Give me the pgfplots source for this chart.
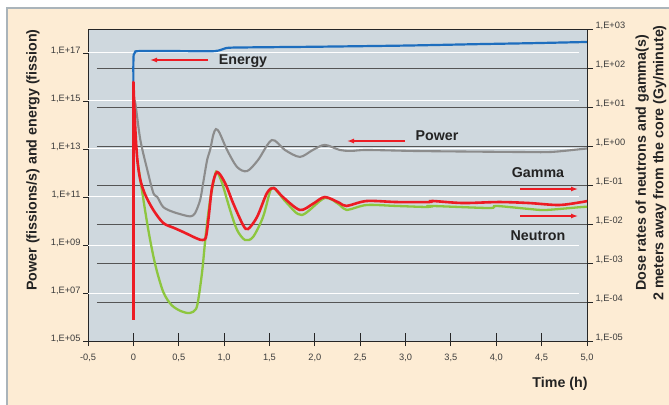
\documentclass[border=0pt]{standalone}
\usepackage{pgfplots}
\pgfplotsset{compat=1.18}
\usepackage{fontspec}
\setmainfont{Liberation Sans}
\usetikzlibrary{arrows.meta}
\definecolor{cream}{RGB}{253,236,212}
\definecolor{panelborder}{RGB}{170,180,186}
\definecolor{plotbg}{RGB}{207,216,222}
\definecolor{gridd}{RGB}{85,85,85}
\definecolor{cred}{RGB}{237,28,36}
\definecolor{cgreen}{RGB}{141,198,63}
\definecolor{cgray}{RGB}{140,140,140}
\definecolor{cblue}{RGB}{30,110,190}
\definecolor{ticktext}{RGB}{60,60,60}
\definecolor{labeltext}{RGB}{35,35,35}
\begin{document}
\begin{tikzpicture}[x=1bp,y=1bp]
\useasboundingbox (0,0) rectangle (669,404);
\fill[white] (0,0) rectangle (669,404);
\filldraw[fill=cream,draw=panelborder,line width=1.2bp] (7,-5) rectangle (675,396);

% ---------- axis 1: left (power, energy) ----------
\begin{axis}[
  at={(88bp,63bp)}, anchor=south west,
  scale only axis, width=499bp, height=312bp,
  xmin=-0.5, xmax=5, ymin=1e5, ymax=1e18, ymode=log,
  axis background/.style={fill=plotbg},
  axis line style={draw=black!85, line width=0.9bp},
  xtick={-0.5,0,0.5,1,1.5,2,2.5,3,3.5,4,4.5,5},
  xticklabels={{-0,5},{0},{0,5},{1,0},{1,5},{2,0},{2,5},{3,0},{3,5},{4,0},{4,5},{5,0}},
  xtick pos=left, xtick style={draw=none},
  ytick={1e5,1e7,1e9,1e11,1e13,1e15,1e17},
  yticklabels={{1,E+05},{1,E+07},{1,E+09},{1,E+11},{1,E+13},{1,E+15},{1,E+17}},
  ytick pos=left, yminorticks=false, xminorticks=false,
  tick align=outside, major tick length=5bp,
  ytick style={line width=0.9bp, draw=black!85},
  tick label style={font=\fontsize{9.3}{11}\selectfont, text=ticktext},
  yticklabel style={yshift=2bp, xshift=1bp},
  xticklabel style={yshift=-5bp},
]
% white lines at left decade ticks
\draw[white, line width=1bp] (axis cs:-0.5,1e7) -- (axis cs:4.91,1e7);
\draw[white, line width=1bp] (axis cs:-0.5,1e9) -- (axis cs:4.91,1e9);
\draw[white, line width=1bp] (axis cs:-0.5,1e11) -- (axis cs:4.91,1e11);
\draw[white, line width=1bp] (axis cs:-0.5,1e13) -- (axis cs:4.91,1e13);
\draw[white, line width=1bp] (axis cs:-0.5,1e15) -- (axis cs:4.91,1e15);
\draw[white, line width=1bp] (axis cs:-0.5,1e17) -- (axis cs:4.91,1e17);
% dark lines at right decade ticks
\draw[gridd, line width=0.95bp] (rel axis cs:0.018,0.125) -- (rel axis cs:1,0.125);
\draw[gridd, line width=0.95bp] (rel axis cs:0.018,0.25) -- (rel axis cs:1,0.25);
\draw[gridd, line width=0.95bp] (rel axis cs:0.018,0.375) -- (rel axis cs:1,0.375);
\draw[gridd, line width=0.95bp] (rel axis cs:0.018,0.5) -- (rel axis cs:1,0.5);
\draw[gridd, line width=0.95bp] (rel axis cs:0.018,0.625) -- (rel axis cs:1,0.625);
\draw[gridd, line width=0.95bp] (rel axis cs:0.018,0.75) -- (rel axis cs:1,0.75);
\draw[gridd, line width=0.95bp] (rel axis cs:0.018,0.875) -- (rel axis cs:1,0.875);
% Power (gray)
\addplot[cgray, line width=2.1bp, smooth, tension=0.5, line cap=round] coordinates {
(0.005,1.0e15) (0.022,7.9e14) (0.077,2.37e13) (0.154,1.33e12) (0.22,1.48e11)
(0.264,1.0e11) (0.33,3.8e10) (0.44,2.37e10) (0.593,1.62e10) (0.64,1.6e10)
(0.681,2.14e10) (0.736,7.5e10) (0.769,3.8e11) (0.813,3.47e12) (0.846,9.1e12)
(0.88,3.8e13) (0.91,6.76e13) (0.95,4.68e13) (1.033,9.1e12) (1.143,1.78e12)
(1.253,1.2e12) (1.374,3.47e12) (1.527,2.37e13) (1.67,9.1e12) (1.835,4.68e12)
(1.978,9.1e12) (2.11,1.48e13) (2.275,9.1e12) (2.4,8.3e12) (2.571,9.1e12)
(3.077,8.3e12) (3.5,7.94e12) (4.253,7.5e12) (4.6,7.5e12) (4.945,1.0e13) (5.0,1.05e13)
};
% Energy (blue)
\addplot[cblue, line width=2.2bp, smooth, tension=0.4, line cap=round] coordinates {
(0,6.2e15) (0,4.0e16) (0.004,8.5e16) (0.02,1.1e17) (0.06,1.2e17) (0.5,1.2e17)
(0.9,1.2e17) (1.03,1.62e17) (1.2,1.7e17) (2.0,1.82e17) (3.0,2.04e17)
(3.8,2.34e17) (4.4,2.57e17) (5.0,2.88e17)
};
\end{axis}

% ---------- axis 2: right (dose rates) ----------
\begin{axis}[
  at={(88bp,63bp)}, anchor=south west,
  scale only axis, width=499bp, height=312bp,
  xmin=-0.5, xmax=5, ymin=1e-5, ymax=1e3, ymode=log,
  axis x line=none, axis y line*=right,
  axis line style={-, draw=black!85, line width=0.9bp},
  xtick=\empty,
  ytick={1e-5,1e-4,1e-3,1e-2,1e-1,1,1e1,1e2,1e3},
  yticklabels={{1,E-05},{1,E-04},{1,E-03},{1,E-02},{1,E-01},{1,E+00},{1,E+01},{1,E+02},{1,E+03}},
  yminorticks=false,
  tick align=outside, major tick length=6bp,
  ytick style={line width=0.9bp, draw=black!85},
  tick label style={font=\fontsize{9.3}{11}\selectfont, text=ticktext},
  yticklabel style={yshift=3bp, xshift=-1bp},
]
% Neutron (green)
\addplot[cgreen, line width=2.3bp, smooth, tension=0.5, line cap=round] coordinates {
(0.044,0.438) (0.077,0.134) (0.165,0.007) (0.242,8.9e-4) (0.33,1.8e-4)
(0.42,8.4e-5) (0.52,5.9e-5) (0.62,5.2e-5) (0.69,6.6e-5) (0.72,1.34e-4)
(0.76,6.6e-4) (0.80,5.9e-3) (0.846,0.0412) (0.90,0.18) (0.923,0.215)
(0.978,0.112) (1.066,0.0229) (1.143,0.00702) (1.231,0.00389) (1.319,0.00464)
(1.429,0.0151) (1.505,0.0662) (1.548,0.0838) (1.692,0.0345) (1.857,0.017)
(2.11,0.0465) (2.275,0.0307) (2.352,0.0229) (2.571,0.0307) (2.9,0.029)
(3.242,0.0273) (3.286,0.029) (3.923,0.0257) (4.0,0.029) (4.363,0.0243)
(4.549,0.0229) (4.945,0.0273) (5.0,0.0273)
};
% Gamma (red) - vertical start
\addplot[cred, line width=2.6bp] coordinates {(0,3.47e-5) (0,43.7)};
% Gamma (red) - curve
\addplot[cred, line width=2.6bp, smooth, tension=0.5, line cap=round] coordinates {
(0,43.7) (0.022,2.57) (0.044,0.438) (0.077,0.134) (0.132,0.0555) (0.22,0.0229)
(0.33,0.0106) (0.45,0.0079) (0.549,0.00624) (0.70,0.00425) (0.76,0.00389)
(0.80,0.0046) (0.83,0.0151) (0.868,0.0889) (0.923,0.215) (1.011,0.112)
(1.099,0.0345) (1.209,0.00942) (1.264,0.00745) (1.363,0.0151) (1.473,0.0624)
(1.548,0.0838) (1.648,0.0492) (1.835,0.0229) (1.98,0.033) (2.11,0.0492)
(2.275,0.0345) (2.35,0.029) (2.571,0.0389) (2.9,0.0366) (3.26,0.0366)
(3.3,0.0389) (3.63,0.0345) (4.03,0.0366) (4.36,0.0345) (4.69,0.0307)
(4.945,0.0366) (5.0,0.0389)
};
\end{axis}

% ---------- axis 3: x ticks crossing the bottom line ----------
\begin{axis}[
  at={(88bp,63bp)}, anchor=south west,
  scale only axis, width=499bp, height=312bp,
  xmin=-0.5, xmax=5, ymin=0, ymax=1,
  axis y line=none, axis x line*=bottom,
  axis line style={-, draw=black!85, line width=0.9bp},
  xtick={-0.5,0,0.5,1,1.5,2,2.5,3,3.5,4,4.5,5},
  xticklabels={}, ytick=\empty, xminorticks=false,
  tick align=center, major tick length=13bp,
  xtick style={line width=0.9bp, draw=black!85, yshift=1.5bp},
]
\end{axis}

% ---------- annotations ----------
\begin{scope}[font=\fontsize{14.3}{17.5}\selectfont\bfseries, text=labeltext]
\node at (243,343) {Energy};
\node at (437,268) {Power};
\node at (538,231) {Gamma};
\node at (538,168) {Neutron};
\node at (560,20) {Time (h)};
\node[rotate=90] at (33,244) {Power (fissions/s) and energy (fission)};
\node[rotate=90, align=center] at (651,241) {Dose rates of neutrons and gamma(s)\\2 meters away from the core (Gy/minute)};
\end{scope}
\begin{scope}[cred, line width=1.3bp, -{Latex[length=7bp,width=5bp]}]
\draw (208,344) -- (150,344);
\draw (405,263) -- (347,263);
\draw (520,215) -- (578,215);
\draw (520,188) -- (578,188);
\end{scope}
\end{tikzpicture}
\end{document}
